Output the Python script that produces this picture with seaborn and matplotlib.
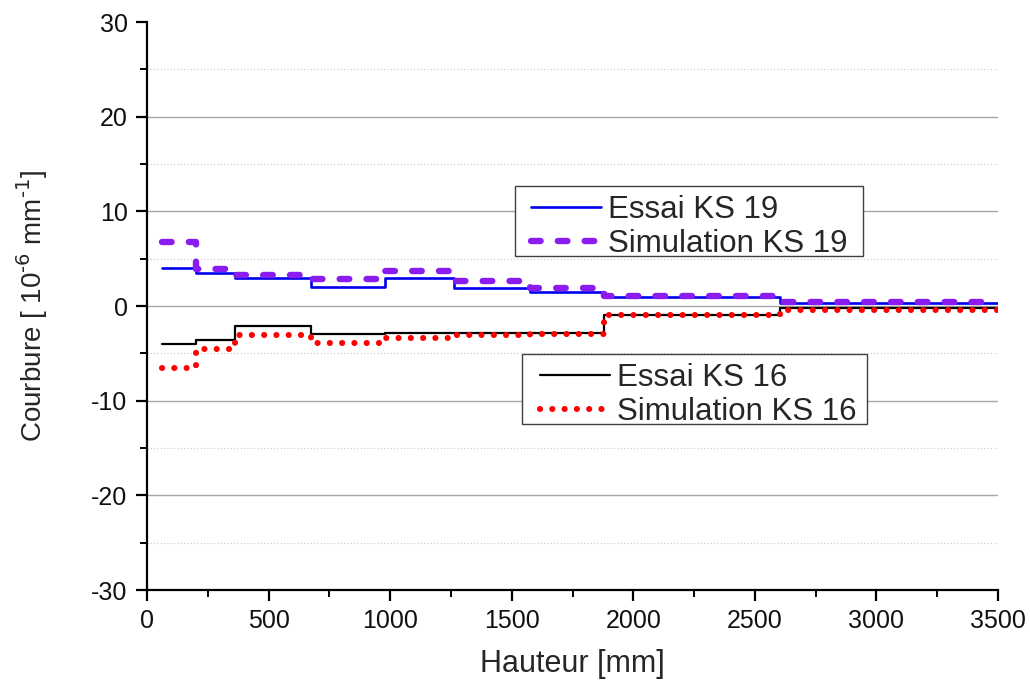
import matplotlib
matplotlib.use("Agg")
import matplotlib.pyplot as plt
from matplotlib.lines import Line2D
from matplotlib.patches import Rectangle
from matplotlib.ticker import MultipleLocator
import pandas as pd
import seaborn as sns

# Heights (mm) where each curvature step begins; the last entry closes the final step
hauteur = [60, 200, 362, 673, 979, 1264, 1575, 1880, 2604, 3500]

# Curvature per step [10^-6 mm^-1]
essai_ks19 = [4.0, 3.45, 3.0, 2.0, 2.95, 1.9, 1.45, 1.0, 0.3, 0.3]
simulation_ks19 = [6.8, 3.9, 3.3, 2.9, 3.7, 2.65, 1.95, 1.1, 0.45, 0.45]
essai_ks16 = [-4.0, -3.6, -2.1, -3.0, -2.9, -2.8, -2.8, -1.0, -0.25, -0.25]
simulation_ks16 = [-6.6, -4.55, -3.05, -3.95, -3.35, -3.1, -3.0, -1.0, -0.4, -0.4]

labels = ["Essai KS 19", "Simulation KS 19", "Essai KS 16", "Simulation KS 16"]

sns.set_theme(style="white")
plt.rcParams["font.family"] = ["Liberation Sans", "DejaVu Sans"]
plt.rcParams["axes.unicode_minus"] = False

DPI = 100
fig = plt.figure(figsize=(1030 / DPI, 683 / DPI), dpi=DPI)
ax = fig.add_axes([147 / 1030, 1 - 590 / 683, (998 - 147) / 1030, (590 - 22) / 683])

styles = {
    "Essai KS 19": dict(color="#0000ee", linewidth=1.9, linestyle="-"),
    "Simulation KS 19": dict(color="#8a1cf0", linewidth=4.6, linestyle=(0, (1.5, 2.7)),
                             dash_capstyle="round"),
    "Essai KS 16": dict(color="black", linewidth=1.6, linestyle="-"),
    "Simulation KS 16": dict(color="#ff0000", linewidth=4.4, linestyle=(0, (0.01, 2.0)),
                             dash_capstyle="round"),
}
series = {
    "Essai KS 19": essai_ks19,
    "Simulation KS 19": simulation_ks19,
    "Essai KS 16": essai_ks16,
    "Simulation KS 16": simulation_ks16,
}

# draw order: simulations over measurements
for name in ["Essai KS 19", "Essai KS 16", "Simulation KS 19", "Simulation KS 16"]:
    df = pd.DataFrame({"Hauteur": hauteur, "Courbure": series[name]})
    sns.lineplot(data=df, x="Hauteur", y="Courbure", ax=ax, estimator=None, sort=False,
                 drawstyle="steps-post", zorder=3, **styles[name])

ax.set_xlim(0, 3500)
ax.set_ylim(-30, 30)
ax.xaxis.set_major_locator(MultipleLocator(500))
ax.xaxis.set_minor_locator(MultipleLocator(250))
ax.yaxis.set_major_locator(MultipleLocator(10))
ax.yaxis.set_minor_locator(MultipleLocator(5))

# horizontal grid: solid at major ticks, dotted at minor ticks
for yv in [-20, -10, 0, 10, 20]:
    ax.axhline(yv, color="#a8a8a8", linewidth=1.0, zorder=1)
for yv in [-25, -15, -5, 5, 15, 25]:
    ax.axhline(yv, color="#c8c8c8", linewidth=0.8, linestyle=(0, (1, 2)), zorder=1)

for side in ["top", "right"]:
    ax.spines[side].set_visible(False)
for side in ["left", "bottom"]:
    ax.spines[side].set_color("black")
    ax.spines[side].set_linewidth(1.6)

ax.tick_params(which="major", direction="out", length=8, width=1.6, color="black",
               labelsize=18, pad=6, bottom=True, left=True, labelcolor="#111111")
ax.tick_params(which="minor", direction="out", length=5, width=1.4, color="black",
               bottom=True, left=True)

ax.set_xlabel("Hauteur [mm]", fontsize=22, labelpad=11)
ax.set_ylabel(r"Courbure [ 10$^{\text{-6}}$ mm$^{\text{-1}}$]", fontsize=20,
              labelpad=30)


def legend_handles(names):
    return [Line2D([], [], **styles[n]) for n in names]


leg_kw = dict(loc="upper left", fontsize=22.5, frameon=False, borderpad=0.0,
              labelspacing=0.12, handlelength=2.25, handletextpad=0.22, borderaxespad=0.0)

# (x0, y0, x1, y1) of each legend box and the anchor of its entries, in axes fraction
boxes = [((0.4324, 0.5880, 0.8414, 0.7113), (0.4512, 0.6954)),
         ((0.4407, 0.2923, 0.8461, 0.4155), (0.4618, 0.3996))]
groups = [labels[:2], labels[2:]]

for (x0, y0, x1, y1), anchor in boxes:
    ax.add_patch(Rectangle((x0, y0), x1 - x0, y1 - y0, transform=ax.transAxes,
                           facecolor="white", edgecolor="#404040", linewidth=1.0,
                           zorder=4))

legs = []
for names, (_, anchor) in zip(groups, boxes):
    leg = ax.legend(handles=legend_handles(names), labels=names, bbox_to_anchor=anchor,
                    **leg_kw)
    leg.set_zorder(5)
    legs.append(leg)
ax.add_artist(legs[0])

fig.savefig("out.png", dpi=DPI, facecolor="white")
